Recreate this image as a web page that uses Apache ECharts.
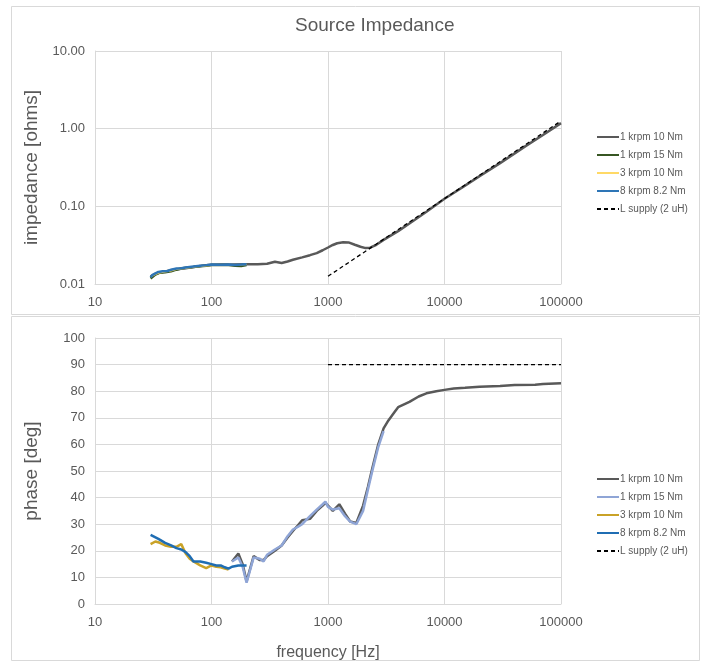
<!DOCTYPE html>
<html>
<head>
<meta charset="utf-8">
<script src="https://cdn.jsdelivr.net/npm/echarts@6/dist/echarts.min.js"></script>
<style>
html,body{margin:0;padding:0;background:#fff;}
#c{width:701px;height:662px;}
</style>
</head>
<body>
<div id="c"></div>
<script>
// ---------- data ----------
const seriesNames = ['1 krpm 10 Nm', '1 krpm 15 Nm', '3 krpm 10 Nm', '8 krpm 8.2 Nm', 'L supply (2 uH)'];
const xTickLabels = ['10', '100', '1000', '10000', '100000'];
const impTickLabels = ['0.01', '0.10', '1.00', '10.00'];

// Impedance panel
const impFreqA = [30,33,36,40,45,50,60,70,80,90,100,120,150,200,250,300,350,400,450,500,600,700,800,900,1000,1100,1200,1350,1500,1700,1900,2100,2300,2600,3000,4000,5000,7000,10000,15000,20000,30000,50000,70000,100000];
const impValA  = [0.0125,0.0135,0.014,0.0145,0.015,0.0155,0.016,0.0165,0.017,0.0174,0.0177,0.0178,0.0178,0.018,0.018,0.0182,0.0193,0.0186,0.0195,0.0205,0.022,0.0235,0.025,0.0272,0.0295,0.0318,0.0335,0.0345,0.0343,0.032,0.0302,0.029,0.0293,0.032,0.037,0.048,0.06,0.085,0.125,0.185,0.245,0.36,0.6,0.83,1.18];
const impFreqB = [30,31,33,36,40,45,50,55,60,70,80,90,100,120,140,160,180,200];
const impValB  = [0.0118,0.0125,0.0132,0.014,0.0142,0.0146,0.0153,0.0158,0.0162,0.0165,0.0169,0.0172,0.0176,0.0176,0.0175,0.0172,0.0171,0.0176];
const impFreqC = [30,33,36,40,45,50,60,70,80,90,100,120,140,160,180,200];
const impValC  = [0.0124,0.0133,0.014,0.0144,0.0148,0.0155,0.016,0.0165,0.0169,0.0172,0.0176,0.0177,0.0177,0.0176,0.0177,0.0178];
const impFreqD = [30,31,33,35,38,42,45,50,55,60,70,80,90,100,120,140,160,180,200];
const impValD  = [0.0122,0.013,0.0137,0.0143,0.0146,0.0147,0.0153,0.0158,0.016,0.0163,0.0168,0.0172,0.0175,0.0178,0.0177,0.0178,0.0176,0.0178,0.018];
const impFreqL = [1000,2000,5000,10000,20000,50000,100000];
const impValL  = [0.01257,0.02513,0.06283,0.1257,0.2513,0.6283,1.257];

// Phase panel
const phFreqA = [150,170,185,200,230,260,280,300,350,400,450,500,550,600,700,800,900,950,1000,1100,1250,1400,1550,1750,2000,2200,2400,2700,3000,3300,3700,4000,5000,6000,7000,8500,10000,12000,15000,20000,30000,40000,60000,70000,100000];
const phValA  = [16,19,15,8.5,18,16.5,16.5,18,20,22,25,27.5,29.5,31.5,32,35,37,38,37,35,37.5,34,31,30.5,37,44,51,60,66,69,72,74,76,78,79.2,80,80.5,81,81.3,81.7,82,82.3,82.4,82.7,83];
const phFreqB = [150,170,185,200,230,260,280,300,350,400,450,500,550,600,700,800,900,950,1000,1100,1250,1400,1550,1750,2000,2200,2400,2700,3000];
const phValB  = [16,17.5,14,8,17.5,17,16,18.5,20.5,22,25.5,28,29,30,33,35.5,37.5,38.5,36.5,35.5,36,33,31,30,35,43,50,59,65];
const phFreqC = [30,33,36,40,45,50,55,60,65,70,80,90,100,110,120,130,140];
const phValC  = [22.5,23.5,23,22,21.5,21.5,22.5,19,17,16,14.5,13.5,14.5,14,13.8,13.3,13];
const phFreqD = [30,35,40,45,50,55,60,65,70,80,90,100,110,120,130,140,150,170,190,200];
const phValD  = [26,24.5,23,22,21,20.5,19.5,18,16,16,15.5,15,14.5,14.5,13.8,13.3,14,14.5,14.5,14.5];
const phFreqL = [1000,100000];
const phValL  = [90,90];

// ---------- build ----------
const zip = (xs, ys) => xs.map((x, i) => [x, ys[i]]);
const topColors = ['#595959', '#375623', '#ffd966', '#2e75b6', '#000000'];
const botColors = ['#595959', '#8fa5d6', '#c9a227', '#1f6db3', '#000000'];
const txt = '#595959';
const gridCol = '#d9d9d9';
const fontFam = '"Liberation Sans", Arial, sans-serif';

const topData = [zip(impFreqA, impValA), zip(impFreqB, impValB), zip(impFreqC, impValC), zip(impFreqD, impValD), zip(impFreqL, impValL)];
const botData = [zip(phFreqA, phValA), zip(phFreqB, phValB), zip(phFreqC, phValC), zip(phFreqD, phValD), zip(phFreqL, phValL)];
const topWidths = [2.5, 2.5, 1.5, 2.5, 1.3];
const botWidths = [2.5, 2.5, 2.5, 2.5, 1.3];

function xLabel(v) {
  const e = Math.round(Math.log10(v)) - 1;
  return xTickLabels[e] !== undefined ? xTickLabels[e] : String(Math.round(v));
}
function yImpLabel(v) {
  const e = Math.round(Math.log10(v)) + 2;
  return impTickLabels[e] !== undefined ? impTickLabels[e] : v.toFixed(2);
}

const series = [];
seriesNames.forEach((n, i) => {
  series.push({
    name: n, type: 'line', xAxisIndex: 0, yAxisIndex: 0,
    data: topData[i], symbol: 'none', smooth: false, z: 2 + i,
    color: topColors[i],
    lineStyle: { color: topColors[i], width: topWidths[i], type: i === 4 ? [4, 3] : 'solid' }
  });
});
seriesNames.forEach((n, i) => {
  series.push({
    name: n + ' ', type: 'line', xAxisIndex: 1, yAxisIndex: 1,
    data: botData[i], symbol: 'none', smooth: false, z: 2 + i,
    color: botColors[i],
    lineStyle: { color: botColors[i], width: botWidths[i], type: i === 4 ? [4, 3] : 'solid' }
  });
});

const xAxisBase = {
  type: 'log', logBase: 10, min: 10, max: 100000,
  axisLine: { show: true, lineStyle: { color: gridCol } },
  axisTick: { show: false },
  splitLine: { show: true, lineStyle: { color: gridCol, width: 1 } },
  axisLabel: { color: txt, fontSize: 13, fontFamily: fontFam, margin: 12, formatter: xLabel, showMinLabel: true, showMaxLabel: true }
};

const legendBase = {
  orient: 'vertical', left: 591, itemWidth: 22, itemHeight: 12, itemGap: 8,
  itemStyle: { opacity: 0, borderWidth: 0 },
  textStyle: { color: txt, fontSize: 10, fontFamily: '"Liberation Sans Narrow", "Liberation Sans", sans-serif', padding: [0, 0, 0, -4] },
  formatter: n => n.trim(),
  selectedMode: false
};

const chart = echarts.init(document.getElementById('c'), null, { renderer: 'canvas' });
chart.setOption({
  backgroundColor: '#ffffff',
  animation: false,
  title: {
    text: 'Source Impedance', left: 290, top: 11,
    textStyle: { color: txt, fontSize: 19, fontWeight: 'normal', fontFamily: fontFam }
  },
  graphic: [
    { type: 'rect', shape: { x: 11.5, y: 6.5, width: 688, height: 308 }, style: { fill: 'none', stroke: gridCol, lineWidth: 1 }, silent: true, z: -10 },
    { type: 'rect', shape: { x: 11.5, y: 316.5, width: 688, height: 344 }, style: { fill: 'none', stroke: gridCol, lineWidth: 1 }, silent: true, z: -10 }
  ],
  legend: [
    Object.assign({}, legendBase, { top: 127, data: seriesNames.slice() }),
    Object.assign({}, legendBase, { top: 469, data: seriesNames.map(n => n + ' ') })
  ],
  grid: [
    { left: 95, top: 51, width: 466, height: 233, containLabel: false },
    { left: 95, top: 338, width: 466, height: 267, containLabel: false }
  ],
  xAxis: [
    Object.assign({}, xAxisBase, { gridIndex: 0 }),
    Object.assign({}, xAxisBase, {
      gridIndex: 1, name: 'frequency [Hz]', nameLocation: 'middle', nameGap: 41,
      nameTextStyle: { color: txt, fontSize: 16, fontFamily: fontFam }
    })
  ],
  yAxis: [
    {
      gridIndex: 0, type: 'log', logBase: 10, min: 0.01, max: 10,
      name: 'impedance [ohms]', nameLocation: 'middle', nameGap: 54,
      nameTextStyle: { color: txt, fontSize: 19, fontFamily: fontFam },
      axisLine: { show: true, lineStyle: { color: gridCol } },
      axisTick: { show: false },
      splitLine: { show: true, lineStyle: { color: gridCol } },
      axisLabel: { color: txt, fontSize: 13, fontFamily: fontFam, margin: 10, formatter: yImpLabel, showMinLabel: true, showMaxLabel: true }
    },
    {
      gridIndex: 1, type: 'value', min: 0, max: 100, interval: 10,
      name: 'phase [deg]', nameLocation: 'middle', nameGap: 54,
      nameTextStyle: { color: txt, fontSize: 19, fontFamily: fontFam },
      axisLine: { show: true, lineStyle: { color: gridCol } },
      axisTick: { show: false },
      splitLine: { show: true, lineStyle: { color: gridCol } },
      axisLabel: { color: txt, fontSize: 13, fontFamily: fontFam, margin: 10 }
    }
  ],
  series: series
});
</script>
</body>
</html>
